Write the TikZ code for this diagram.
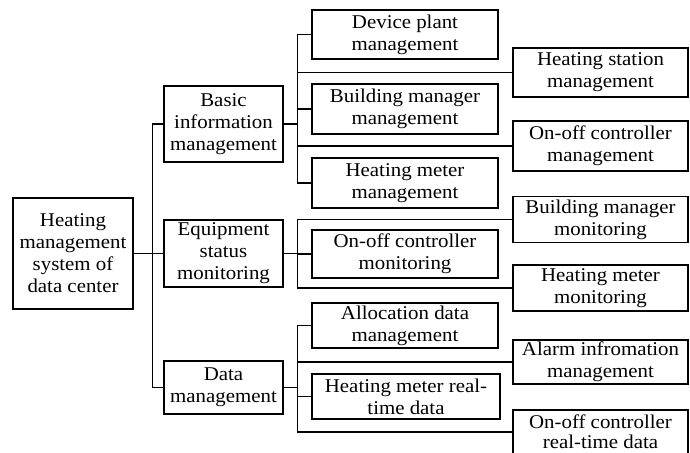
\documentclass[tikz,border=0pt]{standalone}
\usepackage{fontspec}
\setmainfont[FakeStretch=1.07]{Liberation Serif}
\tikzset{
  box/.style={draw, line width=1.1pt, align=center, inner sep=0pt,
    font=\fontsize{19.5}{22}\selectfont},
  link/.style={line width=1.1pt}
}
\begin{document}
\begin{tikzpicture}[x=1pt, y=-1pt]
      \useasboundingbox (0,0) rectangle (690,452);
      \clip (0,0) rectangle (690,452);

      \node[box, minimum width=120pt, minimum height=111pt] (root) at (73,253.5)
        {Heating\\management\\system of\\data center};

      \node[box, minimum width=119pt, minimum height=76pt] (basic) at (223.5,124)
        {Basic\\information\\management};
      \node[box, minimum width=119pt, minimum height=67pt] (equip) at (223.5,253.5)
        {Equipment\\status\\monitoring};
      \node[box, minimum width=119pt, minimum height=53pt] (data) at (223.5,387.5)
        {Data\\management};

      \draw[link] (root.east) -- ++(19,0) |- (basic.west);
      \draw[link] (root.east) -- (equip.west);
      \draw[link] (root.east) -- ++(19,0) |- (data.west);

      % basic information
      \node[box, minimum width=186pt, minimum height=49pt] (dev) at (405,34.5)
        {Device plant\\management};
      \node[box, minimum width=186pt, minimum height=50pt] (bmm) at (405,109)
        {Building manager\\management};
      \node[box, minimum width=186pt, minimum height=50pt] (hmm) at (405,183)
        {Heating meter\\management};
      \node[box, minimum width=175pt, minimum height=49pt] (hsm) at (600.5,72.5)
        {Heating station\\management};
      \node[box, minimum width=175pt, minimum height=50pt] (ocm) at (600.5,146)
        {On-off controller\\management};

      \foreach \n in {dev,bmm,hmm,hsm,ocm}
        \draw[link] (basic.east) -- ++(14,0) |- (\n.west);

      % equipment status
      \node[box, minimum width=186pt, minimum height=48pt] (ocmon) at (405,254)
        {On-off controller\\monitoring};
      \node[box, minimum width=175pt, minimum height=46pt] (bmmon) at (600.5,219.5)
        {Building manager\\monitoring};
      \node[box, minimum width=175pt, minimum height=46pt] (hmmon) at (600.5,288)
        {Heating meter\\monitoring};

      \foreach \n in {ocmon,bmmon,hmmon}
        \draw[link] (equip.east) -- ++(14,0) |- (\n.west);

      % data
      \node[box, minimum width=186pt, minimum height=45pt] (alloc) at (405,325.5)
        {Allocation data\\management};
      \node[box, minimum width=188pt, minimum height=45pt] (hmrt) at (406,396.5)
        {Heating meter real-\\time data};
      \node[box, minimum width=175pt, minimum height=44pt] (alarm) at (600.5,362)
        {Alarm infromation\\management};
      \node[box, minimum width=175pt, minimum height=44pt,
        font=\fontsize{19.5}{20}\selectfont] (ocrt) at (600.5,432)
        {On-off controller\\real-time data};

      \foreach \n in {alloc,hmrt,alarm,ocrt}
        \draw[link] (data.east) -- ++(14,0) |- (\n.west);
\end{tikzpicture}
\end{document}
